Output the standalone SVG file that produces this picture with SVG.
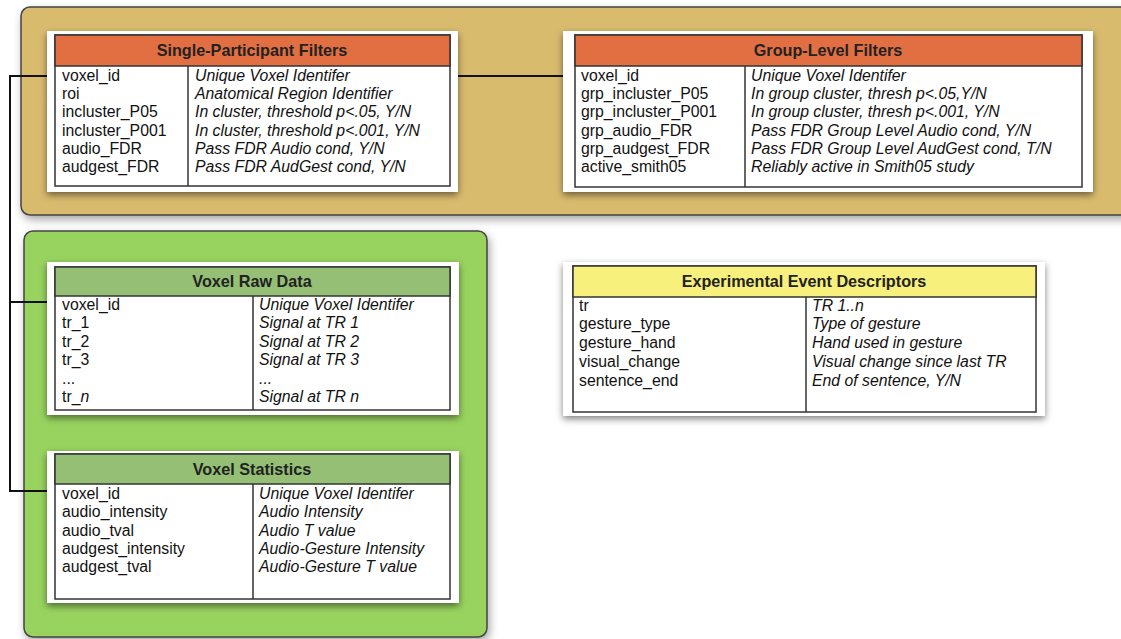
<svg xmlns="http://www.w3.org/2000/svg" width="1121" height="639" viewBox="0 0 1121 639">
<defs>
<filter id="sh" x="-10%" y="-10%" width="120%" height="130%">
<feDropShadow dx="0" dy="3" stdDeviation="3.5" flood-color="#000" flood-opacity="0.5"/>
</filter>
<filter id="sh2" x="-5%" y="-10%" width="115%" height="130%">
<feDropShadow dx="2" dy="4" stdDeviation="4" flood-color="#000" flood-opacity="0.35"/>
</filter>
</defs>
<style>
.k{font-family:"Liberation Sans",Arial,sans-serif;font-size:15.8px;fill:#111}
.d{font-family:"Liberation Sans",Arial,sans-serif;font-size:15.8px;font-style:italic;fill:#111}
.h{font-family:"Liberation Sans",Arial,sans-serif;font-size:16.2px;font-weight:bold;fill:#222;text-anchor:middle}
.panel{fill:#fff;filter:url(#sh)}
.tbl{fill:#fff;stroke:#333;stroke-width:1.5}
.orange{fill:#e26f42;stroke:#333;stroke-width:1.5}
.green{fill:#94bf75;stroke:#333;stroke-width:1.5}
.yellow{fill:#f8f07c;stroke:#333;stroke-width:1.5}
.div{stroke:#333;stroke-width:1.5}
.conn{fill:none;stroke:#111;stroke-width:2}
</style>
<rect width="1121" height="639" fill="#fff"/>
<g id="tan-container">
<rect x="21" y="7" width="1120" height="208" rx="9" fill="#d9bb6e" stroke="#444" stroke-width="1.5" filter="url(#sh2)"/>
</g>
<g id="green-container">
<rect x="24" y="231" width="463" height="406" rx="9" fill="#98d35f" stroke="#444" stroke-width="1.5" filter="url(#sh2)"/>
</g>
<g id="connectors">
<polyline class="conn" points="55,76 10,76 10,491 55,491"/>
<line class="conn" x1="10" y1="302" x2="55" y2="302"/>
<line class="conn" x1="450" y1="76" x2="575" y2="76"/>
</g>
<g id="single-participant-filters">
<rect class="panel" x="47" y="31" width="411" height="161"/>
<rect class="tbl" x="55" y="35" width="395" height="151"/>
<rect class="orange" x="55" y="35" width="395" height="31"/>
<text class="h" x="252" y="56">Single-Participant Filters</text>
<line class="div" x1="188" y1="66" x2="188" y2="186"/>
<text class="k" x="62" y="81">voxel_id</text>
<text class="k" x="62" y="99">roi</text>
<text class="k" x="62" y="117">incluster_P05</text>
<text class="k" x="62" y="136">incluster_P001</text>
<text class="k" x="62" y="154">audio_FDR</text>
<text class="k" x="62" y="172">audgest_FDR</text>
<text class="d" x="195" y="81">Unique Voxel Identifer</text>
<text class="d" x="195" y="99">Anatomical Region Identifier</text>
<text class="d" x="195" y="117">In cluster, threshold p&lt;.05, Y/N</text>
<text class="d" x="195" y="136">In cluster, threshold p&lt;.001, Y/N</text>
<text class="d" x="195" y="154">Pass FDR Audio cond, Y/N</text>
<text class="d" x="195" y="172">Pass FDR AudGest cond, Y/N</text>
</g>
<g id="group-level-filters">
<rect class="panel" x="563" y="31" width="530" height="161"/>
<rect class="tbl" x="575" y="35" width="507" height="152"/>
<rect class="orange" x="575" y="35" width="507" height="31"/>
<text class="h" x="828" y="56">Group-Level Filters</text>
<line class="div" x1="745" y1="66" x2="745" y2="187"/>
<text class="k" x="581" y="81">voxel_id</text>
<text class="k" x="581" y="99">grp_incluster_P05</text>
<text class="k" x="581" y="117">grp_incluster_P001</text>
<text class="k" x="581" y="136">grp_audio_FDR</text>
<text class="k" x="581" y="154">grp_audgest_FDR</text>
<text class="k" x="581" y="172">active_smith05</text>
<text class="d" x="751" y="81">Unique Voxel Identifer</text>
<text class="d" x="751" y="99">In group cluster, thresh p&lt;.05,Y/N</text>
<text class="d" x="751" y="117">In group cluster, thresh p&lt;.001, Y/N</text>
<text class="d" x="751" y="136">Pass FDR Group Level Audio cond, Y/N</text>
<text class="d" x="751" y="154">Pass FDR Group Level AudGest cond, T/N</text>
<text class="d" x="751" y="172">Reliably active in Smith05 study</text>
</g>
<g id="voxel-raw-data">
<rect class="panel" x="47" y="262" width="412" height="153"/>
<rect class="tbl" x="55" y="267" width="395" height="143"/>
<rect class="green" x="55" y="267" width="395" height="29"/>
<text class="h" x="252" y="287">Voxel Raw Data</text>
<line class="div" x1="253" y1="296" x2="253" y2="410"/>
<text class="k" x="62" y="310">voxel_id</text>
<text class="k" x="62" y="328">tr_1</text>
<text class="k" x="62" y="347">tr_2</text>
<text class="k" x="62" y="365">tr_3</text>
<text class="k" x="62" y="384">...</text>
<text class="k" x="62" y="402">tr_<tspan font-style="italic">n</tspan></text>
<text class="d" x="259" y="310">Unique Voxel Identifer</text>
<text class="d" x="259" y="328">Signal at TR 1</text>
<text class="d" x="259" y="347">Signal at TR 2</text>
<text class="d" x="259" y="365">Signal at TR 3</text>
<text class="d" x="259" y="384">...</text>
<text class="d" x="259" y="402">Signal at TR n</text>
</g>
<g id="voxel-statistics">
<rect class="panel" x="47" y="451" width="412" height="152"/>
<rect class="tbl" x="55" y="454" width="395" height="145"/>
<rect class="green" x="55" y="454" width="395" height="30"/>
<text class="h" x="252" y="475">Voxel Statistics</text>
<line class="div" x1="253" y1="484" x2="253" y2="599"/>
<text class="k" x="62" y="499">voxel_id</text>
<text class="k" x="62" y="517">audio_intensity</text>
<text class="k" x="62" y="536">audio_tval</text>
<text class="k" x="62" y="554">audgest_intensity</text>
<text class="k" x="62" y="572">audgest_tval</text>
<text class="d" x="259" y="499">Unique Voxel Identifer</text>
<text class="d" x="259" y="517">Audio Intensity</text>
<text class="d" x="259" y="536">Audio T value</text>
<text class="d" x="259" y="554">Audio-Gesture Intensity</text>
<text class="d" x="259" y="572">Audio-Gesture T value</text>
</g>
<g id="experimental-event-descriptors">
<rect class="panel" x="563" y="262" width="482" height="154"/>
<rect class="tbl" x="573" y="266" width="463" height="146"/>
<rect class="yellow" x="573" y="266" width="463" height="31"/>
<text class="h" x="804" y="287">Experimental Event Descriptors</text>
<line class="div" x1="806" y1="297" x2="806" y2="412"/>
<text class="k" x="579" y="311">tr</text>
<text class="k" x="579" y="329">gesture_type</text>
<text class="k" x="579" y="348">gesture_hand</text>
<text class="k" x="579" y="367">visual_change</text>
<text class="k" x="579" y="386">sentence_end</text>
<text class="d" x="812" y="311">TR 1..n</text>
<text class="d" x="812" y="329">Type of gesture</text>
<text class="d" x="812" y="348">Hand used in gesture</text>
<text class="d" x="812" y="367">Visual change since last TR</text>
<text class="d" x="812" y="386">End of sentence, Y/N</text>
</g>
</svg>
